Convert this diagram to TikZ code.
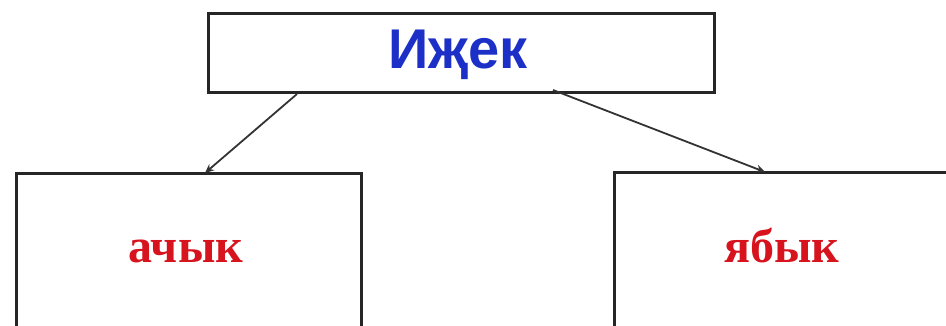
\documentclass[tikz,border=0pt]{standalone}
\usepackage{fontspec}
\setmainfont{Liberation Serif}
\newfontfamily\headfont{Liberation Sans}
\usetikzlibrary{arrows.meta}
\definecolor{headblue}{RGB}{28,48,200}
\definecolor{wordred}{RGB}{215,20,30}
\tikzset{
  box/.style={draw=black!85, line width=2.6pt, fill=white, inner sep=0pt, anchor=north west},
  conn/.style={draw=black!80, line width=1.8pt, -{Stealth[length=9pt,width=8pt]}},
  headtxt/.style={font=\headfont\bfseries\fontsize{56}{64}\selectfont, text=headblue, anchor=base},
  wordtxt/.style={font=\bfseries\fontsize{48}{54}\selectfont, text=wordred, anchor=base}
}
\begin{document}
\begin{tikzpicture}[x=1pt,y=-1pt]
\useasboundingbox[fill=white] (0,0) rectangle (946,325);
\node[box, minimum width=506pt, minimum height=79pt] (top) at (207,12) {};
\node[box, minimum width=345pt, minimum height=160pt] (left) at (15,172) {};
\node[box, minimum width=340pt, minimum height=160pt] (right) at (613,171) {};
\node[headtxt] (toptxt) at (458,68) {Иҗек};
\node[wordtxt] (lefttxt) at (186,262) {ачык};
\node[wordtxt] (righttxt) at (782,262) {ябык};
\coordinate (s1) at (297,94);
\coordinate (e1) at (205,173);
\coordinate (s2) at (553,90);
\coordinate (e2) at (765,172);
\draw[conn] (s1) -- (e1);
\draw[conn] (s2) -- (e2);
\end{tikzpicture}
\end{document}
